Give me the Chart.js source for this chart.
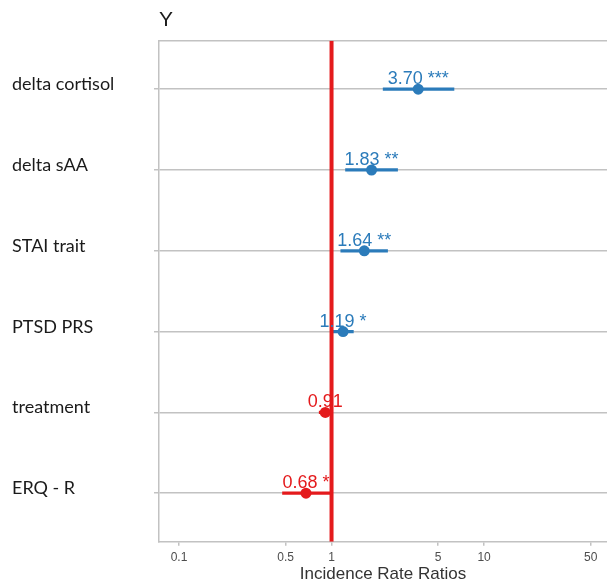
<!DOCTYPE html>
<html>
<head>
<meta charset="utf-8">
<script src="https://cdn.jsdelivr.net/npm/chart.js@4/dist/chart.umd.min.js"></script>
<style>
  html, body { margin: 0; padding: 0; background: #ffffff; }
  #c { display: block; }
</style>
</head>
<body>
<canvas id="c" width="607" height="583"></canvas>
<script>
// ---- data ----
const categories = ["delta cortisol", "delta sAA", "STAI trait", "PTSD PRS", "treatment", "ERQ - R"];
const irr       = [3.70, 1.83, 1.64, 1.19, 0.91, 0.68];
const ciLow     = [2.18, 1.235, 1.15, 1.02, 0.83, 0.477];
const ciHigh    = [6.35, 2.71, 2.33, 1.39, 1.00, 0.985];
const stars     = ["***", "**", "**", "*", "", "*"];
const xTicks    = [0.1, 0.5, 1, 5, 10, 50];
const xRange    = [0.0739, 64];
const refValue  = 1;

const BLUE = "#2b7bba";
const RED = "#e41a1c";
const GRID = "#c2c2c2";
const colorOf = v => (v > 1 ? BLUE : RED);
const rowColors = irr.map(colorOf);
const labelTexts = irr.map((v, i) => v.toFixed(2) + (stars[i] ? " " + stars[i] : ""));
const yMin = -0.6, yMax = categories.length - 0.4;

const noPad = s => { s.paddingLeft = 0; s.paddingRight = 0; s.paddingTop = 0; s.paddingBottom = 0; };

const valueLabels = {
  id: "valueLabels",
  afterDatasetsDraw(chart) {
    const meta = chart.getDatasetMeta(2);
    const ctx = chart.ctx;
    ctx.save();
    ctx.font = "18px 'Liberation Sans', Arial, sans-serif";
    ctx.textAlign = "center";
    ctx.textBaseline = "alphabetic";
    meta.data.forEach((el, i) => {
      ctx.fillStyle = rowColors[i];
      ctx.fillText(labelTexts[i], el.x, el.y - 5);
    });
    ctx.restore();
  }
};

new Chart(document.getElementById("c"), {
  data: {
    datasets: [
      {
        type: "bar",
        indexAxis: "y",
        xAxisID: "x",
        yAxisID: "y",
        data: categories.map((c, i) => ({ x: [ciLow[i], ciHigh[i]], y: i })),
        backgroundColor: rowColors,
        borderWidth: 0,
        barThickness: 2.6,
        order: 3
      },
      {
        type: "scatter",
        xAxisID: "x",
        yAxisID: "y",
        data: [{ x: refValue, y: yMin }, { x: refValue, y: yMax }],
        showLine: true,
        borderColor: RED,
        borderWidth: 4,
        pointRadius: 0,
        order: 2
      },
      {
        type: "scatter",
        xAxisID: "x",
        yAxisID: "y",
        data: categories.map((c, i) => ({ x: irr[i], y: i })),
        pointRadius: 5.5,
        pointBackgroundColor: rowColors,
        pointBorderWidth: 0,
        order: 1
      }
    ]
  },
  options: {
    responsive: false,
    devicePixelRatio: 1,
    animation: false,
    layout: { autoPadding: false, padding: { left: 12, right: 0, top: 0, bottom: 0 } },
    plugins: { legend: { display: false }, tooltip: { enabled: false } },
    scales: {
      x: {
        type: "logarithmic",
        position: "bottom",
        offset: false,
        min: xRange[0],
        max: xRange[1],
        afterBuildTicks: s => { s.ticks = xTicks.map(v => ({ value: v })); },
        afterFit: s => { noPad(s); s.height = 41.3; },
        grid: { drawOnChartArea: false, drawTicks: true, tickLength: 4, color: GRID, lineWidth: 1.5, offset: false },
        border: { display: true, color: GRID, width: 1.5 },
        ticks: {
          autoSkip: false,
          maxRotation: 0,
          padding: 5,
          color: "#4d4d4d",
          font: { family: "'Liberation Sans', Arial, sans-serif", size: 12 },
          callback: v => String(v)
        },
        title: {
          display: true,
          text: "Incidence Rate Ratios",
          color: "#333333",
          font: { family: "'Liberation Sans', Arial, sans-serif", size: 17, lineHeight: 1.0 },
          padding: { top: 0, bottom: 0 }
        }
      },
      xTop: {
        type: "logarithmic",
        position: "top",
        offset: false,
        min: xRange[0],
        max: xRange[1],
        afterFit: s => { noPad(s); s.height = 40.7; },
        grid: { display: false, drawTicks: false },
        border: { display: true, color: GRID, width: 1.5 },
        ticks: { display: false },
        title: {
          display: true,
          text: "Y",
          align: "start",
          color: "#1a1a1a",
          font: { family: "'Liberation Sans', Arial, sans-serif", size: 21 },
          padding: { top: 8, bottom: 8 }
        }
      },
      y: {
        type: "linear",
        position: "left",
        reverse: true,
        offset: false,
        min: yMin,
        max: yMax,
        weight: 0,
        afterBuildTicks: s => { s.ticks = categories.map((c, i) => ({ value: i })); },
        afterFit: s => { noPad(s); s.width = 5; },
        grid: { color: GRID, lineWidth: 1.5, drawTicks: true, tickLength: 5, offset: false },
        border: { display: true, color: GRID, width: 1.5 },
        ticks: { display: false }
      },
      yLabels: {
        type: "linear",
        position: "left",
        reverse: true,
        offset: false,
        min: yMin,
        max: yMax,
        weight: 1,
        afterBuildTicks: s => { s.ticks = categories.map((c, i) => ({ value: i - 0.06 })); },
        afterFit: s => { noPad(s); s.width = 142; },
        grid: { display: false, offset: false },
        border: { display: false },
        ticks: {
          autoSkip: false,
          crossAlign: "far",
          color: "#1a1a1a",
          font: { family: "Lato, 'Open Sans', sans-serif", size: 18 },
          callback: (v, idx) => categories[idx]
        }
      }
    }
  },
  plugins: [valueLabels]
});
</script>
</body>
</html>
